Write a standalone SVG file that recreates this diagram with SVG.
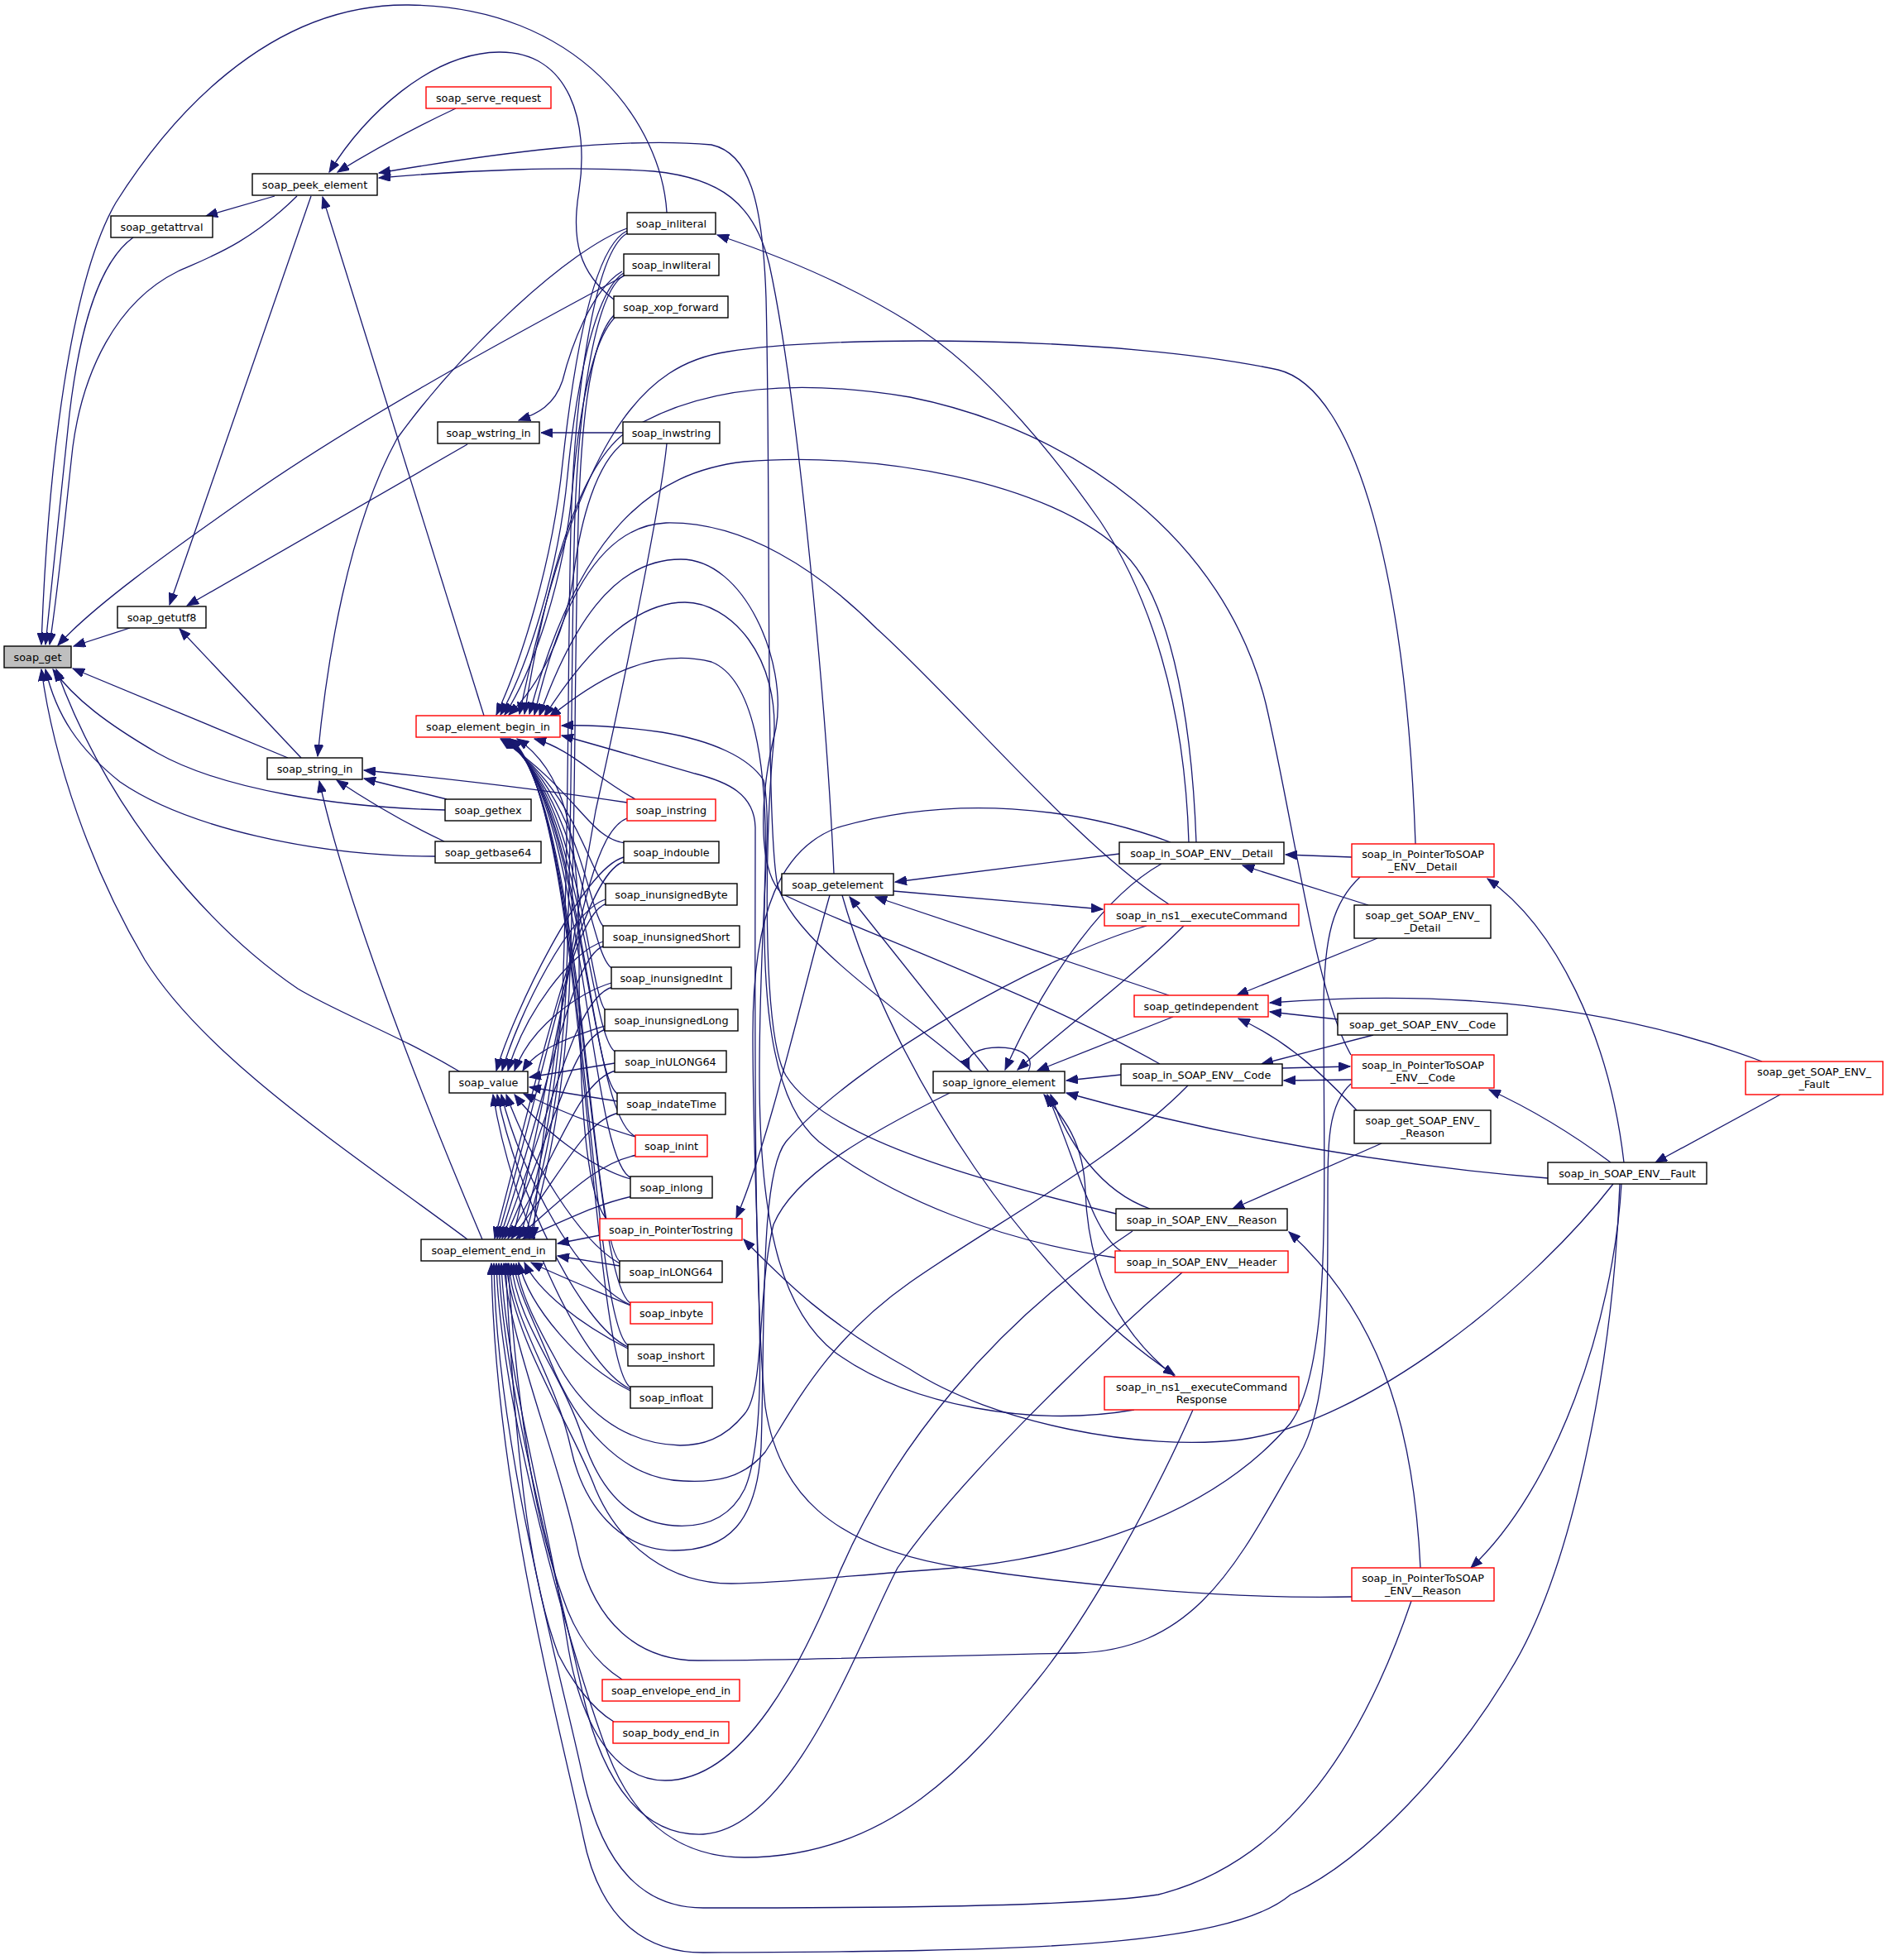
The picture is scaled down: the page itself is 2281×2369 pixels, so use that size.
<svg xmlns="http://www.w3.org/2000/svg" width="2281" height="2369" viewBox="0 0 2281 2369">
<style>
.n rect{fill:#fff;stroke:#000;stroke-width:1.4}
.r rect{stroke:#ff0000}
.g rect{fill:#bfbfbf}
text{font-family:"DejaVu Sans","Liberation Sans",sans-serif;font-size:12.8px;text-anchor:middle;fill:#000}
.e path{fill:none;stroke:#191970;stroke-width:1.3;marker-end:url(#a)}
</style>
<defs>
<marker id="a" markerUnits="userSpaceOnUse" markerWidth="15" markerHeight="11" refX="14" refY="5.5" orient="auto"><path d="M0,0 L14,5.5 L0,11 z" fill="#191970" stroke="#191970" stroke-width="1"/></marker>
</defs>
<rect x="0" y="0" width="2281" height="2369" fill="#fff"/>
<g id="edges" class="e">
<path d="M806,257 C800,150 700,8 494,6 C320,4 200,150 140,245 C85,340 58,560 50,779"/>
<path d="M161,287 C118,318 96,400 84,500 C74,590 64,700 55,779"/>
<path d="M359,237 C300,295 255,310 215,328 C140,365 100,450 88,540 C80,610 72,700 60,779"/>
<path d="M755,333 C650,390 450,495 300,600 C200,670 110,735 70,780"/>
<path d="M157,759 L89,781"/>
<path d="M348,916 L88,808"/>
<path d="M538,979 C410,976 270,955 190,910 C130,875 90,845 64,809"/>
<path d="M526,1035 C380,1035 225,1000 145,945 C95,905 68,865 55,809"/>
<path d="M557,1296 C480,1250 410,1225 360,1195 C250,1120 130,980 68,809"/>
<path d="M565,1498 C420,1390 250,1280 175,1160 C110,1050 65,920 50,809"/>
<path d="M332,237 L249,261"/>
<path d="M376,237 L205,731"/>
<path d="M551,131 C500,155 445,185 408,208"/>
<path d="M742,362 C700,330 690,290 700,230 C712,150 690,62 603,63 C520,64 440,140 398,208"/>
<path d="M585,865 L390,238"/>
<path d="M1008,1056 C1000,870 965,480 930,320 C912,245 870,215 790,207 C690,200 560,206 458,215"/>
<path d="M1175,1295 C1100,1230 960,1140 940,1070 C925,1000 932,600 926,360 C922,240 905,185 860,175 C750,165 600,185 458,209"/>
<path d="M565,537 L226,732"/>
<path d="M364,916 L217,760"/>
<path d="M758,276 C690,300 560,420 480,530 C420,640 395,800 384,914"/>
<path d="M540,966 L440,941"/>
<path d="M537,1017 C490,995 440,965 407,943"/>
<path d="M758,970 C660,955 530,940 440,931"/>
<path d="M583,1498 C520,1350 420,1100 386,944"/>
<path d="M752,328 C715,350 690,420 680,460 C670,490 650,500 627,508"/>
<path d="M753,523 L654,523"/>
<path d="M1353,1032 L1082,1066"/>
<path d="M1195,1295 L1027,1084"/>
<path d="M1413,1203 L1058,1084"/>
<path d="M1080,1077 L1333,1099"/>
<path d="M1003,1082 C975,1180 930,1380 890,1472"/>
<path d="M1018,1082 C1080,1300 1250,1550 1420,1662"/>
<path d="M1243,1295 C1252,1276 1232,1266 1207,1266 C1182,1266 1164,1276 1172,1293"/>
<path d="M1404,1044 C1340,1080 1270,1170 1215,1293"/>
<path d="M1431,1119 C1370,1180 1290,1240 1230,1293"/>
<path d="M1418,1229 L1254,1294"/>
<path d="M1355,1299 L1289,1306"/>
<path d="M1871,1424 C1700,1410 1500,1380 1289,1321"/>
<path d="M1390,1461 C1330,1440 1290,1380 1270,1323"/>
<path d="M1355,1512 C1320,1490 1300,1400 1266,1323"/>
<path d="M1420,1664 C1340,1600 1315,1520 1312,1440 C1310,1380 1285,1350 1262,1323"/>
<path d="M1634,1036 L1554,1033"/>
<path d="M1654,1094 L1502,1046"/>
<path d="M1665,1134 L1495,1203"/>
<path d="M1617,1232 L1535,1223"/>
<path d="M1660,1251 L1525,1286"/>
<path d="M1640,1342 C1600,1300 1560,1260 1497,1231"/>
<path d="M1670,1382 L1490,1461"/>
<path d="M2152,1323 L2001,1405"/>
<path d="M2130,1283 C1950,1215 1750,1195 1535,1212"/>
<path d="M1963,1405 C1945,1250 1880,1120 1798,1062"/>
<path d="M1947,1405 C1900,1370 1850,1340 1800,1317"/>
<path d="M1960,1431 C1950,1600 1880,1800 1778,1895"/>
<path d="M1550,1291 L1632,1289"/>
<path d="M1634,1305 L1552,1306"/>
<path d="M1717,1895 C1710,1750 1680,1600 1558,1489"/>
<path d="M1950,1431 C1850,1560 1650,1720 1500,1740 C1380,1755 1200,1720 1100,1655 C1000,1600 950,1550 899,1498"/>
<path d="M1437,1018 C1432,850 1390,720 1330,630 C1260,530 1180,440 1100,390 C1020,340 930,305 867,284"/>
<path d="M1711,1020 C1700,700 1640,470 1545,447 C1350,405 1000,405 880,425 C780,440 700,520 628,863"/>
<path d="M1633,1275 C1590,1200 1565,1000 1530,850 C1480,650 1300,520 1100,480 C950,455 840,470 760,520 C700,560 660,700 634,863"/>
<path d="M1446,1018 C1440,850 1410,720 1360,670 C1270,580 1050,545 900,558 C790,570 700,640 640,863"/>
<path d="M1413,1093 C1300,1020 1160,850 1060,760 C990,690 900,630 805,632 C720,636 675,740 646,864"/>
<path d="M1402,1286 C1250,1200 1000,1110 945,1080 C915,1050 918,960 938,880 C952,800 900,676 823,676 C740,676 690,760 652,865"/>
<path d="M1349,1467 C1200,1430 1000,1380 950,1300 C920,1250 925,1000 935,900 C945,790 880,728 828,728 C760,728 700,800 658,866"/>
<path d="M1348,1520 C1210,1500 1080,1450 990,1380 C930,1330 920,1200 925,1050 C928,920 910,820 860,800 C780,780 710,830 664,867"/>
<path d="M1371,1704 C1250,1725 1100,1700 1010,1635 C945,1585 918,1480 918,1300 C918,1100 935,1000 923,943 C905,915 860,895 800,885 C750,878 710,876 679,877"/>
<path d="M1634,1930 C1500,1933 1323,1919 1164,1895 C1000,1870 940,1800 925,1700 C910,1550 913,1200 913,1000 C912,960 880,945 840,935 C770,915 720,900 679,889"/>
<path d="M733,1473 C705,1440 700,1300 700,1150 C700,1000 680,930 625,893"/>
<path d="M768,966 C720,940 690,905 646,893"/>
<path d="M758,279 C715,300 692,450 680,560 C668,680 630,800 600,864"/>
<path d="M754,330 C718,352 696,470 686,575 C675,690 638,805 605,864"/>
<path d="M745,382 C715,410 700,500 692,590 C682,700 645,810 610,864"/>
<path d="M755,534 C720,560 702,630 694,690 C684,770 650,830 615,864"/>
<path d="M758,282 C718,305 694,480 690,640 C686,800 688,1000 680,1200 C672,1350 645,1440 628,1497"/>
<path d="M754,333 C718,355 697,500 694,660 C690,820 692,1000 684,1200 C676,1350 650,1440 634,1497"/>
<path d="M743,380 C712,410 700,520 698,680 C694,850 696,1000 688,1200 C680,1350 655,1440 640,1497"/>
<path d="M806,536 C800,600 760,800 720,980 C690,1150 650,1380 645,1497"/>
<path d="M758,989 C705,1010 690,1200 620,1496"/>
<path d="M756,1019 C712,1014 701,960 605,893"/>
<path d="M734,1070 C712,1062 701,960 606,893"/>
<path d="M731,1121 C712,1110 702,960 607,893"/>
<path d="M741,1171 C712,1160 702,960 608,893"/>
<path d="M733,1222 C712,1210 703,960 609,893"/>
<path d="M745,1272 C712,1260 703,960 610,893"/>
<path d="M748,1323 C712,1310 704,960 611,893"/>
<path d="M770,1374 C712,1360 705,960 612,893"/>
<path d="M764,1424 C712,1410 705,960 613,893"/>
<path d="M751,1526 C712,1510 706,960 614,893"/>
<path d="M764,1576 C712,1560 706,960 615,893"/>
<path d="M761,1627 C712,1610 707,960 616,893"/>
<path d="M764,1678 C712,1660 708,960 617,893"/>
<path d="M754,1036 C704,1050 620,1225 600,1294"/>
<path d="M732,1087 C690,1100 627,1225 607,1294"/>
<path d="M729,1138 C690,1150 634,1225 614,1294"/>
<path d="M739,1188 C700,1200 642,1240 622,1294"/>
<path d="M731,1240 C700,1250 650,1265 632,1294"/>
<path d="M743,1285 L640,1302"/>
<path d="M746,1331 L640,1314"/>
<path d="M768,1374 C720,1360 670,1340 633,1322"/>
<path d="M762,1425 C710,1410 650,1360 622,1323"/>
<path d="M749,1527 C700,1500 640,1400 612,1323"/>
<path d="M762,1577 C700,1550 630,1420 606,1323"/>
<path d="M759,1628 C700,1600 625,1440 601,1323"/>
<path d="M762,1679 C700,1650 618,1460 596,1323"/>
<path d="M756,1041 C706,1051 658,1269 598,1497"/>
<path d="M734,1092 C690,1102 661,1294 601,1497"/>
<path d="M731,1143 C690,1153 664,1320 604,1497"/>
<path d="M741,1193 C695,1203 667,1345 607,1497"/>
<path d="M733,1244 C690,1254 670,1370 610,1497"/>
<path d="M745,1294 C700,1304 674,1395 614,1497"/>
<path d="M748,1345 C705,1355 678,1421 618,1497"/>
<path d="M770,1396 C720,1406 684,1446 624,1497"/>
<path d="M764,1446 C720,1456 690,1472 632,1497"/>
<path d="M725,1493 L674,1503"/>
<path d="M749,1530 L674,1518"/>
<path d="M762,1578 C720,1560 670,1540 642,1526"/>
<path d="M759,1630 C700,1600 650,1560 634,1526"/>
<path d="M762,1681 C700,1650 640,1580 627,1526"/>
<path d="M1148,1321 C1050,1370 960,1420 935,1480 C915,1560 925,1680 900,1709 C875,1740 848,1747 822,1747 C750,1745 700,1700 670,1640 C645,1595 628,1560 624,1527"/>
<path d="M1436,1312 C1350,1400 1200,1480 1100,1550 C1000,1620 960,1700 925,1755 C898,1788 862,1792 826,1790 C750,1788 695,1720 665,1645 C645,1595 625,1560 621,1527"/>
<path d="M1415,1018 C1300,975 1153,960 1013,1000 C945,1025 910,1100 910,1250 C910,1500 935,1720 900,1800 C880,1840 845,1846 815,1844 C760,1840 725,1800 705,1740 C680,1660 625,1600 618,1527"/>
<path d="M1386,1119 C1257,1157 1034,1283 950,1380 C918,1420 925,1600 920,1750 C915,1840 880,1874 815,1874 C750,1874 705,1820 690,1750 C670,1660 620,1600 615,1527"/>
<path d="M1644,1060 C1612,1090 1600,1130 1600,1220 C1600,1450 1610,1650 1560,1720 C1450,1850 1250,1890 1130,1897 C1020,1905 940,1914 884,1914 C810,1914 750,1870 720,1800 C690,1720 620,1620 612,1527"/>
<path d="M1633,1310 C1605,1335 1605,1380 1605,1450 C1605,1600 1605,1700 1570,1760 C1500,1880 1450,1995 1300,1998 C1100,2002 950,2007 844,2007 C770,2007 720,1960 700,1880 C675,1760 615,1620 609,1527"/>
<path d="M1369,1488 C1200,1600 1080,1750 1015,1900 C970,2010 900,2152 804,2152 C740,2152 700,2080 685,1980 C665,1850 610,1650 606,1527"/>
<path d="M1429,1538 C1300,1650 1150,1800 1085,1895 C1040,1980 960,2210 850,2217 C780,2220 730,2160 705,2050 C680,1930 608,1680 603,1527"/>
<path d="M1442,1704 C1400,1800 1320,1950 1252,2033 C1180,2120 1080,2245 900,2245 C830,2245 770,2210 735,2120 C690,2000 605,1700 600,1527"/>
<path d="M1706,1935 C1650,2100 1560,2250 1400,2290 C1300,2306 1000,2306 850,2306 C780,2306 730,2260 705,2150 C680,2030 600,1750 597,1527"/>
<path d="M1958,1431 C1950,1650 1900,1900 1825,2020 C1760,2130 1650,2250 1560,2290 C1480,2358 1200,2358 850,2360 C780,2360 725,2320 705,2220 C680,2100 598,1800 594,1527"/>
<path d="M752,2030 C720,2010 695,1975 680,1930 C655,1860 628,1750 614,1527"/>
<path d="M742,2081 C715,2065 690,2030 675,2000 C645,1920 625,1800 611,1527"/>
</g>
<g id="soap_get" class="n g"><rect x="5" y="781" width="81" height="26"/><text x="45.5" y="798.5">soap_get</text></g>
<g id="soap_getattrval" class="n"><rect x="134" y="261" width="123" height="26"/><text x="195.5" y="278.5">soap_getattrval</text></g>
<g id="soap_peek_element" class="n"><rect x="305" y="210" width="151" height="26"/><text x="380.5" y="227.5">soap_peek_element</text></g>
<g id="soap_serve_request" class="n r"><rect x="515" y="105" width="151" height="26"/><text x="590.5" y="122.5">soap_serve_request</text></g>
<g id="soap_getutf8" class="n"><rect x="142" y="733" width="107" height="26"/><text x="195.5" y="750.5">soap_getutf8</text></g>
<g id="soap_wstring_in" class="n"><rect x="529" y="510" width="123" height="26"/><text x="590.5" y="527.5">soap_wstring_in</text></g>
<g id="soap_string_in" class="n"><rect x="323" y="916" width="115" height="26"/><text x="380.5" y="933.5">soap_string_in</text></g>
<g id="soap_element_begin_in" class="n r"><rect x="503" y="865" width="174" height="26"/><text x="590" y="882.5">soap_element_begin_in</text></g>
<g id="soap_value" class="n"><rect x="543" y="1295" width="95" height="26"/><text x="590.5" y="1312.5">soap_value</text></g>
<g id="soap_element_end_in" class="n"><rect x="509" y="1498" width="163" height="26"/><text x="590.5" y="1515.5">soap_element_end_in</text></g>
<g id="soap_gethex" class="n"><rect x="538" y="966" width="104" height="26"/><text x="590" y="983.5">soap_gethex</text></g>
<g id="soap_getbase64" class="n"><rect x="526" y="1017" width="128" height="26"/><text x="590" y="1034.5">soap_getbase64</text></g>
<g id="soap_inliteral" class="n"><rect x="758" y="257" width="107" height="26"/><text x="811.5" y="274.5">soap_inliteral</text></g>
<g id="soap_inwliteral" class="n"><rect x="754" y="307" width="115" height="26"/><text x="811.5" y="324.5">soap_inwliteral</text></g>
<g id="soap_xop_forward" class="n"><rect x="742" y="358" width="138" height="26"/><text x="811" y="375.5">soap_xop_forward</text></g>
<g id="soap_inwstring" class="n"><rect x="753" y="510" width="117" height="26"/><text x="811.5" y="527.5">soap_inwstring</text></g>
<g id="soap_instring" class="n r"><rect x="758" y="966" width="107" height="26"/><text x="811.5" y="983.5">soap_instring</text></g>
<g id="soap_indouble" class="n"><rect x="754" y="1017" width="115" height="26"/><text x="811.5" y="1034.5">soap_indouble</text></g>
<g id="soap_inunsignedByte" class="n"><rect x="732" y="1068" width="159" height="26"/><text x="811.5" y="1085.5">soap_inunsignedByte</text></g>
<g id="soap_inunsignedShort" class="n"><rect x="729" y="1119" width="165" height="26"/><text x="811.5" y="1136.5">soap_inunsignedShort</text></g>
<g id="soap_inunsignedInt" class="n"><rect x="739" y="1169" width="145" height="26"/><text x="811.5" y="1186.5">soap_inunsignedInt</text></g>
<g id="soap_inunsignedLong" class="n"><rect x="731" y="1220" width="161" height="26"/><text x="811.5" y="1237.5">soap_inunsignedLong</text></g>
<g id="soap_inULONG64" class="n"><rect x="743" y="1270" width="135" height="26"/><text x="810.5" y="1287.5">soap_inULONG64</text></g>
<g id="soap_indateTime" class="n"><rect x="746" y="1321" width="131" height="26"/><text x="811.5" y="1338.5">soap_indateTime</text></g>
<g id="soap_inint" class="n r"><rect x="768" y="1372" width="87" height="26"/><text x="811.5" y="1389.5">soap_inint</text></g>
<g id="soap_inlong" class="n"><rect x="762" y="1422" width="99" height="26"/><text x="811.5" y="1439.5">soap_inlong</text></g>
<g id="soap_in_PointerTostring" class="n r"><rect x="725" y="1473" width="172" height="26"/><text x="811" y="1490.5">soap_in_PointerTostring</text></g>
<g id="soap_inLONG64" class="n"><rect x="749" y="1524" width="124" height="26"/><text x="811" y="1541.5">soap_inLONG64</text></g>
<g id="soap_inbyte" class="n r"><rect x="762" y="1574" width="99" height="26"/><text x="811.5" y="1591.5">soap_inbyte</text></g>
<g id="soap_inshort" class="n"><rect x="759" y="1625" width="104" height="26"/><text x="811" y="1642.5">soap_inshort</text></g>
<g id="soap_infloat" class="n"><rect x="762" y="1676" width="99" height="26"/><text x="811.5" y="1693.5">soap_infloat</text></g>
<g id="soap_envelope_end_in" class="n r"><rect x="728" y="2030" width="166" height="26"/><text x="811" y="2047.5">soap_envelope_end_in</text></g>
<g id="soap_body_end_in" class="n r"><rect x="741" y="2081" width="140" height="26"/><text x="811" y="2098.5">soap_body_end_in</text></g>
<g id="soap_getelement" class="n"><rect x="945" y="1056" width="135" height="26"/><text x="1012.5" y="1073.5">soap_getelement</text></g>
<g id="soap_ignore_element" class="n"><rect x="1128" y="1295" width="159" height="26"/><text x="1207.5" y="1312.5">soap_ignore_element</text></g>
<g id="soap_in_SOAP_ENV__Detail" class="n"><rect x="1353" y="1018" width="199" height="26"/><text x="1452.5" y="1035.5">soap_in_SOAP_ENV__Detail</text></g>
<g id="soap_in_ns1__executeCommand" class="n r"><rect x="1335" y="1093" width="235" height="26"/><text x="1452.5" y="1110.5">soap_in_ns1__executeCommand</text></g>
<g id="soap_getindependent" class="n r"><rect x="1371" y="1203" width="162" height="26"/><text x="1452" y="1220.5">soap_getindependent</text></g>
<g id="soap_in_SOAP_ENV__Code" class="n"><rect x="1355" y="1286" width="195" height="26"/><text x="1452.5" y="1303.5">soap_in_SOAP_ENV__Code</text></g>
<g id="soap_in_SOAP_ENV__Reason" class="n"><rect x="1349" y="1461" width="207" height="26"/><text x="1452.5" y="1478.5">soap_in_SOAP_ENV__Reason</text></g>
<g id="soap_in_SOAP_ENV__Header" class="n r"><rect x="1348" y="1512" width="209" height="26"/><text x="1452.5" y="1529.5">soap_in_SOAP_ENV__Header</text></g>
<g id="soap_in_ns1__executeCommandResponse" class="n r"><rect x="1335" y="1664" width="235" height="40"/><text x="1452.5" y="1681">soap_in_ns1__executeCommand</text><text x="1452.5" y="1696">Response</text></g>
<g id="soap_in_PointerToSOAP_ENV__Detail" class="n r"><rect x="1634" y="1020" width="172" height="40"/><text x="1720" y="1037">soap_in_PointerToSOAP</text><text x="1720" y="1052">_ENV__Detail</text></g>
<g id="soap_get_SOAP_ENV__Detail" class="n"><rect x="1637" y="1094" width="165" height="40"/><text x="1719.5" y="1111">soap_get_SOAP_ENV_</text><text x="1719.5" y="1126">_Detail</text></g>
<g id="soap_get_SOAP_ENV__Code" class="n"><rect x="1617" y="1225" width="205" height="26"/><text x="1719.5" y="1242.5">soap_get_SOAP_ENV__Code</text></g>
<g id="soap_in_PointerToSOAP_ENV__Code" class="n r"><rect x="1634" y="1275" width="172" height="40"/><text x="1720" y="1292">soap_in_PointerToSOAP</text><text x="1720" y="1307">_ENV__Code</text></g>
<g id="soap_get_SOAP_ENV__Reason" class="n"><rect x="1637" y="1342" width="165" height="40"/><text x="1719.5" y="1359">soap_get_SOAP_ENV_</text><text x="1719.5" y="1374">_Reason</text></g>
<g id="soap_in_PointerToSOAP_ENV__Reason" class="n r"><rect x="1634" y="1895" width="172" height="40"/><text x="1720" y="1912">soap_in_PointerToSOAP</text><text x="1720" y="1927">_ENV__Reason</text></g>
<g id="soap_in_SOAP_ENV__Fault" class="n"><rect x="1871" y="1405" width="192" height="26"/><text x="1967" y="1422.5">soap_in_SOAP_ENV__Fault</text></g>
<g id="soap_get_SOAP_ENV__Fault" class="n r"><rect x="2110" y="1283" width="166" height="40"/><text x="2193" y="1300">soap_get_SOAP_ENV_</text><text x="2193" y="1315">_Fault</text></g>
</svg>
